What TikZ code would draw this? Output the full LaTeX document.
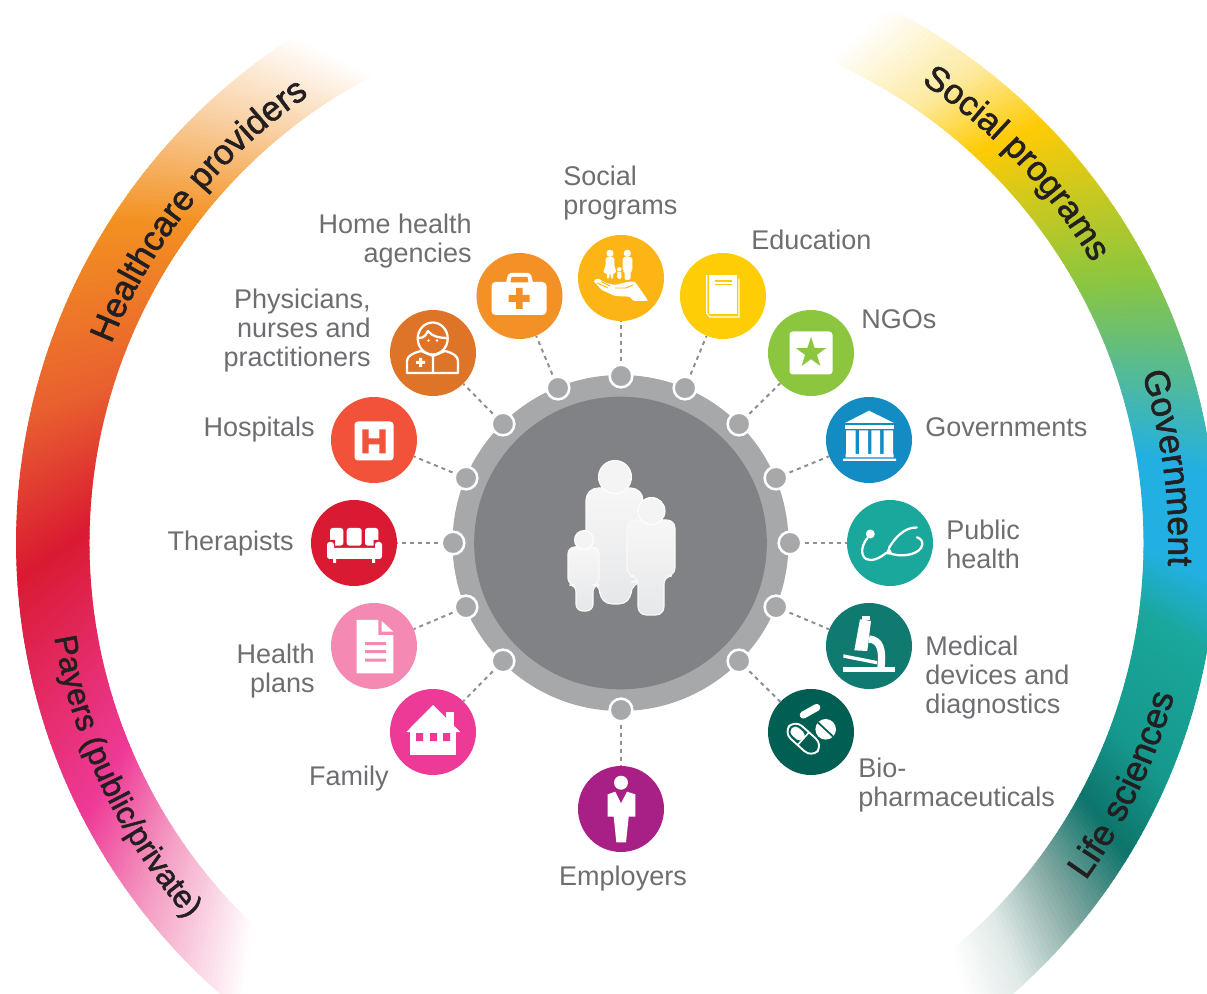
\documentclass[tikz,border=0pt]{standalone}
\usepackage{fontspec}
\usetikzlibrary{decorations.text}
\setmainfont{Liberation Sans}
\newfontfamily\arcfont[FakeBold=1.6]{Liberation Sans}
\definecolor{ringg}{HTML}{A7A8AA}
\definecolor{coreg}{HTML}{808285}
\definecolor{labg}{HTML}{6D6E71}
\definecolor{arctxt}{HTML}{231F20}
\definecolor{cHome}{HTML}{F39127}
\definecolor{cDoc}{HTML}{DD7427}
\definecolor{cHosp}{HTML}{F15239}
\definecolor{cTher}{HTML}{DA1A32}
\definecolor{cPlan}{HTML}{F48AB3}
\definecolor{cFam}{HTML}{EE3A97}
\definecolor{cEmp}{HTML}{A82086}
\definecolor{cBio}{HTML}{005F52}
\definecolor{cMed}{HTML}{107970}
\definecolor{cPub}{HTML}{1BA89C}
\definecolor{cGov}{HTML}{128CC3}
\definecolor{cNgo}{HTML}{8CC63F}
\definecolor{cEdu}{HTML}{FFCD05}
\definecolor{cSoc}{HTML}{FDB515}
\definecolor{g1}{HTML}{F9CFA0}
\definecolor{g2}{HTML}{F39121}
\definecolor{g3}{HTML}{E8602F}
\definecolor{g4}{HTML}{DA1A32}
\definecolor{g5}{HTML}{EE3A97}
\definecolor{g6}{HTML}{F4A0C4}
\definecolor{h1}{HTML}{FDEAA0}
\definecolor{h2}{HTML}{FFCB05}
\definecolor{h3}{HTML}{8CC63F}
\definecolor{h4}{HTML}{22B0E3}
\definecolor{h5}{HTML}{1AA79B}
\definecolor{h6}{HTML}{16988D}
\definecolor{h7}{HTML}{0D746B}
\definecolor{h8}{HTML}{7FA6A0}
\definecolor{h9}{HTML}{DFE9E7}
% one stretch of a colour band, centre-line angles #1 to #2, colours #3 to #4, skew #5, steps #6
\newcommand{\gseg}[6]{%
  \foreach \i in {1,...,#6}{%
    \pgfmathsetmacro\aa{#1+(#2-#1)*(\i-1)/#6}%
    \pgfmathsetmacro\bb{#1+(#2-#1)*\i/#6}%
    \pgfmathsetmacro\pc{100*(\i-.5)/#6}%
    \colorlet{segc}{#4!\pc!#3}%
    \pgfmathsetmacro\ao{\aa+#5}\pgfmathsetmacro\bo{\bb+#5}%
    \pgfmathsetmacro\ai{\aa-#5}\pgfmathsetmacro\bi{\bb-#5}%
    \fill[segc,draw=segc,line width=.7pt] (\ao:600) arc (\ao:\bo:600) -- (\bi:527.5) arc (\bi:\ai:527.5) -- cycle;
  }}
\newcommand{\person}[9]{%
  \path[personstyle] (#1,#3) -- (#2,#3) -- (#2,#4) -- (#6,#4) -- (#6,#7) -- (#5,#7) -- (#5,#4) -- (#1,#4) -- cycle;
  \path[headstyle] (#8,#9) circle [radius=\headr];
}
\tikzset{
  bub/.style={circle,minimum size=64.5pt,inner sep=0pt},
  dot/.style={circle,fill=ringg,draw=white,line width=1.9pt,minimum size=17pt,inner sep=0pt},
  conn/.style={draw=ringg!85!black,line width=1.5pt,dash pattern=on 3pt off 3pt},
  lab/.style={text=labg,font=\fontsize{20.25}{21.75}\selectfont,inner sep=0pt},
  wl/.style={draw=white,line width=1.7pt,line join=round,line cap=round},
  personstyle/.style={top color=F2,bottom color=E1,draw=F8,line width=.8pt,rounded corners=\cornr},
  headstyle/.style={fill=F4,draw=white,line width=.8pt},
  arctext/.style={decorate,decoration={text along path,text color=arctxt,text align=center,text={#1}}}
}
\definecolor{F2}{HTML}{F7F7F8}\definecolor{E1}{HTML}{E6E7E8}
\definecolor{F8}{HTML}{FAFAFA}\definecolor{F4}{HTML}{F4F4F5}
\begin{document}
\begin{tikzpicture}[x=.75pt,y=-.75pt]
\useasboundingbox (0,0) rectangle (1207,994);
\clip (0,0) rectangle (1207,994);
% colour bands
\begin{scope}[shift={(616.5,543)},y=.75pt]
  \gseg{120}{132}{white}{g1}{2.5}{24}
  \gseg{132}{145}{g1}{g2}{2.5}{26}
  \gseg{145}{165}{g2}{g3}{2.5}{40}
  \gseg{165}{181}{g3}{g4}{2.5}{32}
  \gseg{181}{205}{g4}{g5}{2.5}{48}
  \gseg{205}{216}{g5}{g6}{2.5}{22}
  \gseg{216}{229}{g6}{white}{2.5}{26}
  \gseg{64.5}{54}{white}{h1}{-1.5}{21}
  \gseg{54}{46}{h1}{h2}{-1.5}{16}
  \gseg{46}{28}{h2}{h3}{-1.5}{36}
  \gseg{28}{8}{h3}{h4}{-1.5}{40}
  \gseg{8}{-2}{h4}{h4}{-1.5}{10}
  \gseg{-2}{-9}{h4}{h5}{-1.5}{14}
  \gseg{-9}{-22}{h5}{h6}{-1.5}{26}
  \gseg{-22}{-30}{h6}{h7}{-1.5}{16}
  \gseg{-30}{-38}{h7}{h8}{-1.5}{16}
  \gseg{-38}{-46}{h8}{h9}{-1.5}{16}
  \gseg{-46}{-52}{h9}{white}{-1.5}{12}
  \path[arctext={|\arcfont\fontsize{26.2}{30}\selectfont|Healthcare providers}] (158.6:543) arc (158.6:124.4:543);
  \path[arctext={|\arcfont\fontsize{23.8}{30}\selectfont|Payers (public/private)}] (189.5:570) arc (189.5:221.3:570);
  \path[arctext={|\arcfont\fontsize{26}{30}\selectfont|Social programs}] (56.5:552) arc (56.5:30.5:552);
  \path[arctext={|\arcfont\fontsize{26.6}{30}\selectfont|Government}] (18:552) arc (18:-2.5:552);
  \path[arctext={|\arcfont\fontsize{26.8}{30}\selectfont|Life sciences}] (-36:578) arc (-36:-15:578);
\end{scope}
% bubbles
\node[bub,fill=cHome] (cHomeN) at (519.5,296) {};
\node[bub,fill=cDoc]  (cDocN)  at (433,353) {};
\node[bub,fill=cHosp] (cHospN) at (374,440) {};
\node[bub,fill=cTher] (cTherN) at (354,543) {};
\node[bub,fill=cPlan] (cPlanN) at (374,646) {};
\node[bub,fill=cFam]  (cFamN)  at (433,732) {};
\node[bub,fill=cEmp]  (cEmpN)  at (621,809) {};
\node[bub,fill=cBio]  (cBioN)  at (811,732) {};
\node[bub,fill=cMed]  (cMedN)  at (869,646) {};
\node[bub,fill=cPub]  (cPubN)  at (890,543) {};
\node[bub,fill=cGov]  (cGovN)  at (869,440) {};
\node[bub,fill=cNgo]  (cNgoN)  at (811,353) {};
\node[bub,fill=cEdu]  (cEduN)  at (723,296) {};
\node[bub,fill=cSoc]  (cSocN)  at (621,278) {};
% hub
\node[circle,fill=ringg,minimum size=252pt,inner sep=0pt] (ring) at (620.5,543) {};
\node[circle,fill=coreg,minimum size=219.5pt,inner sep=0pt] (core) at (620.5,543) {};
% hub dots
\node[dot] (dHome) at (558,388) {};
\node[dot] (dDoc)  at (503,424) {};
\node[dot] (dHosp) at (466,478) {};
\node[dot] (dTher) at (453,543) {};
\node[dot] (dPlan) at (466,607) {};
\node[dot] (dFam)  at (503,661) {};
\node[dot] (dEmp)  at (621,710) {};
\node[dot] (dBio)  at (739,661) {};
\node[dot] (dMed)  at (776,607) {};
\node[dot] (dPub)  at (790,543) {};
\node[dot] (dGov)  at (776,478) {};
\node[dot] (dNgo)  at (739,424) {};
\node[dot] (dEdu)  at (685,388) {};
\node[dot] (dSoc)  at (621,376) {};
\foreach \d/\c in {dHome/cHomeN,dDoc/cDocN,dHosp/cHospN,dTher/cTherN,dPlan/cPlanN,dFam/cFamN,dEmp/cEmpN,dBio/cBioN,dMed/cMedN,dPub/cPubN,dGov/cGovN,dNgo/cNgoN,dEdu/cEduN,dSoc/cSocN}
  \draw[conn,shorten <=1.5pt] (\d) -- (\c);
% family figure
\def\cornr{9pt}\def\headr{16.5}
\person{586}{643}{488}{582}{600}{631}{604}{615}{477}
\def\cornr{5pt}\def\headr{9.5}
\person{568}{599}{547}{585}{576}{593}{611}{584}{540}
\def\cornr{6pt}\def\headr{13.5}
\person{627}{675}{520}{576}{638}{664}{615}{651.5}{511}
% Home kit
\begin{scope}[shift={(519.5,296)}]
  \fill[white,rounded corners=3pt] (-28,-14) rectangle (27,19);
  \fill[white,rounded corners=1.5pt] (-14,-12) -- (-11,-23) -- (11,-23) -- (14,-12) -- cycle;
  \fill[cHome] (-9,-13.5) -- (-8,-19) -- (8,-19) -- (9,-13.5) -- cycle;
  \fill[cHome] (-11,-1) rectangle (10,6) (-3.5,-8) rectangle (3,13);
\end{scope}
% Doctor
\begin{scope}[shift={(433,353)}]
  \draw[wl] (-.3,-14.5) ellipse [x radius=15,y radius=16];
  \draw[wl] (-14,-15) .. controls (-9,-15) and (-7,-18) .. (-5,-22) .. controls (-1,-16) and (8,-15) .. (14,-15);
  \fill[white] (-4.5,-12.5) circle [radius=1.4] (4,-12.5) circle [radius=1.4];
  \draw[wl] (0,3) -- (0,20) (-26,20) -- (-26,8) .. controls (-26,3) and (-20,0) .. (-12,-2) -- (0,3) -- (12,-2) .. controls (20,0) and (25,3) .. (25,8) -- (25,20) -- cycle;
  \fill[white] (-17,8) rectangle (-8,11) (-14,5) rectangle (-11,14);
\end{scope}
% Hospital
\begin{scope}[shift={(374,440)}]
  \fill[white,rounded corners=2.5pt] (-19.5,-18.5) rectangle (19.5,20.5);
  \fill[cHosp] (-11.7,-10.7) rectangle (-5.3,13.3) (5.3,-10.7) rectangle (11.7,13.3) (-5.5,-1.7) rectangle (5.5,4.3);
\end{scope}
% Sofa
\begin{scope}[shift={(354,543)}]
  \fill[white,rounded corners=2pt] (-24,-15) rectangle (-10.7,2.7) (-7.3,-15) rectangle (7.7,2.7) (11,-15) rectangle (24.3,2.7);
  \fill[cTher] (-24.5,-3) rectangle (-19,3) (19.5,-3) rectangle (24.5,3);
  \fill[white,rounded corners=2pt] (-27,-1) rectangle (-20,16) (21,-1) rectangle (28,16);
  \fill[white] (-25,5) rectangle (26,16) (-21,16) rectangle (-18,20) (18,16) rectangle (21,20);
\end{scope}
% Health plan page
\begin{scope}[shift={(374,646)}]
  \fill[white] (-17.3,-26) -- (4.3,-26) -- (4.3,-11) -- (19.3,-11) -- (19.3,27.3) -- (-17.3,27.3) -- cycle;
  \fill[white] (7.7,-25) -- (19.3,-14.3) -- (7.7,-14.3) -- cycle;
  \fill[cPlan] (-9,-3.8) rectangle (12,-.8) (-9,4.2) rectangle (12,7.2) (-9,12.5) rectangle (12,15.5);
\end{scope}
% House
\begin{scope}[shift={(433,732)}]
  \fill[white] (13,-20) rectangle (21,-5);
  \fill[white] (0,-27) -- (27.3,0) -- (-26.7,0) -- cycle;
  \fill[cFam] (11,-17) -- (13,-17) -- (13,-15) -- cycle;
  \fill[white] (-22.7,0) rectangle (23.3,23);
  \fill[cFam] (-17,1) rectangle (-10,9) (-3,1) rectangle (4,9) (10,1) rectangle (17,9);
\end{scope}
% Employer
\begin{scope}[shift={(621,809)}]
  \fill[white] (0,-26.3) circle [radius=7];
  \fill[white] (-13.3,-14.7) -- (-5.7,-17.3) -- (0,-5.7) -- (6,-17.3) -- (14.3,-14.7) -- (14.3,7.7) -- (7.7,7.7) -- (5,33.3) -- (-4.7,33.3) -- (-7.3,7.7) -- (-13.3,7.7) -- cycle;
\end{scope}
% Pills
\begin{scope}[shift={(811,732)}]
  \draw[white,line width=5.4pt,line cap=round] (-7.7,-17) -- (5.7,-24.5);
  \fill[white] (14.7,-2.7) circle [radius=10.3];
  \draw[cBio,line width=1.3pt] (7,-9.5) -- (22,4.5);
  \begin{scope}[shift={(-7.7,6.7)},rotate=-42]
    \draw[white,line width=1.4pt,rounded corners=7.3pt] (-19,-8.5) rectangle (19,8.5);
    \fill[white,rounded corners=3.5pt] (-15.5,-5) -- (0,-5) -- (0,5) -- (-15.5,5) -- cycle;
    \draw[white,line width=1.2pt] (0,-8.5) -- (0,8.5);
  \end{scope}
\end{scope}
% Microscope
\begin{scope}[shift={(869,646)}]
  \fill[white] (-26.3,20.7) rectangle (26,25.7);
  \fill[white] (-25.7,8.3) -- (8.3,15) -- (7.7,18.3) -- (-25.7,11.7) -- cycle;
  \fill[white] (-7.3,-30) rectangle (1,-26);
  \fill[white] (-9,-26.7) -- (2,-25) -- (-1.7,5) -- (-14.7,4.3) -- cycle;
  \draw[white,line width=5.5pt] (0,-7) .. controls (11,-6) and (14,3) .. (12,21);
\end{scope}
% Stethoscope
\begin{scope}[shift={(890,543)}]
  \fill[white] (-19.7,-9) circle [radius=4.5];
  \draw[wl] (-22.5,-5) .. controls (-28.5,2) and (-30,12) .. (-24,16) .. controls (-18,19) and (-10,15) .. (-4,10);
  \fill[white] (-5,11) -- (-1,4) -- (3,12) -- cycle;
  \draw[wl] (-1,5) .. controls (4,-4) and (14,-16) .. (26.7,-15.5);
  \draw[wl] (2,11) .. controls (12,14) and (26,12) .. (31,5) .. controls (34,0) and (32,-4) .. (27,-5.7);
\end{scope}
% Government
\begin{scope}[shift={(869,440)}]
  \fill[white] (0,-29.3) -- (25,-17) -- (-24,-17) -- cycle;
  \fill[white] (-24,-15.3) rectangle (25,-10.7);
  \fill[white] (-23,-9.5) rectangle (-13.5,14) (-10,-9.5) rectangle (-1,14) (2.3,-9.5) rectangle (11,14) (14.5,-9.5) rectangle (24,14);
  \fill[white] (-23.5,14) rectangle (24.5,17.3) (-26,18.7) rectangle (27,21);
\end{scope}
% NGO
\begin{scope}[shift={(811,353)}]
  \fill[white,rounded corners=2.5pt] (-21.5,-21.5) rectangle (21.5,21.5);
  \fill[cNgo] (-90:16) -- (-54:6.2) -- (-18:16) -- (18:6.2) -- (54:16) -- (90:6.2) -- (126:16) -- (162:6.2) -- (198:16) -- (234:6.2) -- cycle;
\end{scope}
% Book
\begin{scope}[shift={(723,296)}]
  \fill[white] (-14,-21) rectangle (13.7,17.7);
  \draw[white,line width=.9pt] (-16.3,-21) -- (-16.3,17.5) -- (-13,21) -- (16,21) -- (16,-17);
  \draw[cEdu,line width=1pt] (-8,-15) -- (8.5,-15) (-8,-11.5) -- (8.5,-11.5);
\end{scope}
% Social hand
\begin{scope}[shift={(621,278)}]
  \fill[white] (-11,-24.7) circle [radius=3.6] (6.3,-24.7) circle [radius=3.6];
  \fill[white,rounded corners=1.2pt] (-15.3,-21) -- (-6.7,-21) -- (-6.7,-13) -- (-4.5,-5) -- (-8,-5) -- (-8,1) -- (-10,1) -- (-10.5,-5) -- (-11.5,-5) -- (-12,1) -- (-14,1) -- (-14,-5) -- (-18,-5) -- (-15.3,-13) -- cycle;
  \fill[white,rounded corners=1.2pt] (1.7,-21) -- (11.3,-21) -- (11.3,-7) -- (9.5,-7) -- (9.5,2) -- (3.5,2) -- (3.5,-7) -- (1.7,-7) -- cycle;
  \fill[white] (-1.7,-8.7) circle [radius=2.2];
  \fill[white] (-3.6,-6) -- (.2,-6) -- (.5,-1) -- (-.8,1) -- (-2.6,1) -- (-3.9,-1) -- cycle;
  \fill[white,rounded corners=1pt] (-27.7,2.7) -- (-23.3,.3) -- (-14.3,5.3) -- (-6,7) -- (7.3,3.7) -- (14,3.7) -- (27.3,23) -- (12.3,23) -- (9,18.7) -- (-6,18) -- (-19.3,12) -- cycle;
  \draw[cSoc,line width=.7pt] (-24,5) -- (-13,10) (-20,3.5) -- (-11,8) (-6,10) -- (5,10) -- (12,7);
\end{scope}
% labels (the base anchor of a multi-line label is its last line)
\node[lab,anchor=base west,align=left]   (lSoc) at (563,215) {Social\\programs};
\node[lab,anchor=base east,align=right]  (lHome) at (472,263) {Home health\\agencies};
\node[lab,anchor=base west]              (lEdu) at (751,250) {Education};
\node[lab,anchor=base east,align=right]  (lDoc) at (371,367) {Physicians,\\nurses and\\practitioners};
\node[lab,anchor=base west]              (lNgo) at (861,329) {NGOs};
\node[lab,anchor=base east]              (lHosp) at (315,437) {Hospitals};
\node[lab,anchor=base west]              (lGov) at (925,437) {Governments};
\node[lab,anchor=base east]              (lTher) at (294,551) {Therapists};
\node[lab,anchor=base west,align=left]   (lPub) at (946,569) {Public\\health};
\node[lab,anchor=base east,align=right]  (lPlan) at (315,692) {Health\\plans};
\node[lab,anchor=base west,align=left]   (lMed) at (925,713) {Medical\\devices and\\diagnostics};
\node[lab,anchor=base east]              (lFam) at (389,785) {Family};
\node[lab,anchor=base west,align=left]   (lBio) at (858,806) {Bio-\\pharmaceuticals};
\node[lab,anchor=base]                   (lEmp) at (623,885) {Employers};
\end{tikzpicture}
\end{document}
